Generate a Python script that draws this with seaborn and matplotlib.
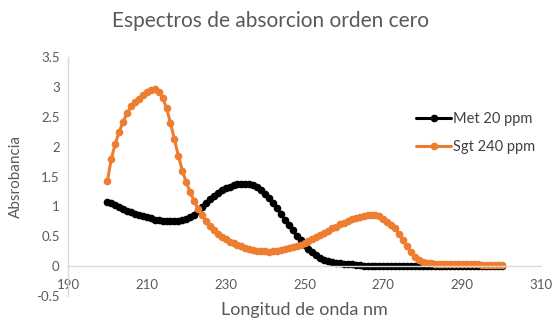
import numpy as np
import pandas as pd
import matplotlib
matplotlib.use("Agg")
import matplotlib.pyplot as plt
import seaborn as sns

# ---- data ----
wavelength = list(range(200, 301))

met_20 = [
    1.08, 1.05, 1.02, 0.99, 0.96, 0.93, 0.91, 0.88, 0.86, 0.84,   # 200-209
    0.82, 0.80, 0.78, 0.77, 0.76, 0.75, 0.75, 0.75, 0.76, 0.77,   # 210-219
    0.79, 0.82, 0.86, 0.92, 0.99, 1.06, 1.12, 1.18, 1.23, 1.27,   # 220-229
    1.30, 1.33, 1.35, 1.37, 1.38, 1.38, 1.37, 1.35, 1.32, 1.27,   # 230-239
    1.21, 1.14, 1.06, 0.97, 0.88, 0.78, 0.69, 0.60, 0.51, 0.43,   # 240-249
    0.36, 0.29, 0.23, 0.18, 0.14, 0.11, 0.09, 0.07, 0.06, 0.05,   # 250-259
    0.04, 0.03, 0.03, 0.02, 0.02, 0.01, 0.01, 0.01, 0.01, 0.01,   # 260-269
    0.00, 0.00, 0.00, 0.00, 0.00, 0.00, 0.00, 0.00, 0.00, 0.00,   # 270-279
    0.00, 0.00, 0.00, 0.00, 0.00, 0.00, 0.00, 0.00, 0.00, 0.00,   # 280-289
    0.00, 0.00, 0.00, 0.00, 0.00, 0.00, 0.00, 0.00, 0.00, 0.00,   # 290-299
    0.00,                                                         # 300
]

sgt_240 = [
    1.43, 1.80, 2.05, 2.25, 2.42, 2.56, 2.68, 2.74, 2.79, 2.87,   # 200-209
    2.91, 2.94, 2.96, 2.92, 2.82, 2.64, 2.40, 2.12, 1.85, 1.60,   # 210-219
    1.40, 1.24, 1.09, 0.96, 0.85, 0.75, 0.67, 0.60, 0.54, 0.49,   # 220-229
    0.45, 0.41, 0.38, 0.35, 0.33, 0.31, 0.29, 0.27, 0.26, 0.25,   # 230-239
    0.25, 0.24, 0.25, 0.26, 0.27, 0.28, 0.30, 0.32, 0.34, 0.36,   # 240-249
    0.39, 0.42, 0.45, 0.48, 0.52, 0.55, 0.59, 0.63, 0.66, 0.70,   # 250-259
    0.73, 0.76, 0.79, 0.81, 0.83, 0.84, 0.85, 0.86, 0.86, 0.84,   # 260-269
    0.79, 0.74, 0.69, 0.64, 0.54, 0.43, 0.33, 0.23, 0.15, 0.10,   # 270-279
    0.07, 0.055, 0.045, 0.04, 0.04, 0.035, 0.03, 0.03, 0.03, 0.03,  # 280-289
    0.03, 0.03, 0.03, 0.03, 0.03, 0.025, 0.025, 0.025, 0.02, 0.02,  # 290-299
    0.02,                                                         # 300
]

series_names = ["Met 20 ppm", "Sgt 240 ppm"]
series_colors = ["#000000", "#ED7D31"]
x_ticks = [190, 210, 230, 250, 270, 290, 310]
y_ticks = [-0.5, 0, 0.5, 1, 1.5, 2, 2.5, 3, 3.5]
y_tick_labels = ["-0.5", "0", "0.5", "1", "1.5", "2", "2.5", "3", "3.5"]

title = "Espectros de absorcion orden cero"
x_label = "Longitud de onda nm"
y_label = "Absrobancia"

df = pd.DataFrame({
    "nm": wavelength * 2,
    "abs": met_20 + sgt_240,
    "serie": [series_names[0]] * len(wavelength) + [series_names[1]] * len(wavelength),
})

# ---- plot ----
sns.set_theme(style="white")
plt.rcParams["font.family"] = ["Lato", "DejaVu Sans"]

fig = plt.figure(figsize=(5.55, 3.2), dpi=100)
ax = fig.add_axes([68 / 555, 1 - 296 / 320, (541 - 68) / 555, (296 - 57) / 320])

sns.lineplot(data=df, x="nm", y="abs", hue="serie", palette=series_colors,
             hue_order=series_names, marker="o", markersize=5.5,
             markeredgewidth=0, linewidth=2.2, ax=ax, legend=True)

ax.set_xlim(190, 310)
ax.set_ylim(-0.5, 3.5)
ax.set_xticks(x_ticks)
ax.set_xticklabels([str(t) for t in x_ticks])
ax.set_yticks(y_ticks)
ax.set_yticklabels(y_tick_labels)

grey = "#595959"
ax.tick_params(axis="both", length=0, labelsize=9.5, labelcolor=grey)
ax.tick_params(axis="x", pad=9.5)
ax.tick_params(axis="y", pad=6)

for s in ["top", "right"]:
    ax.spines[s].set_visible(False)
ax.spines["bottom"].set_position(("data", 0))
ax.spines["bottom"].set_color("#D9D9D9")
ax.spines["left"].set_color("#D9D9D9")
ax.spines["bottom"].set_linewidth(1)
ax.spines["left"].set_linewidth(1)
ax.grid(False)

ax.set_xlabel("")
ax.set_ylabel("")
fig.text((68 + 541) / 2 / 555, 1 - 310 / 320, x_label, ha="center", va="center",
         fontsize=13, color=grey)
fig.text(16 / 555, 1 - 177 / 320, y_label, ha="center", va="center",
         rotation=90, fontsize=11, color=grey)
fig.text(271 / 555, 1 - 21 / 320, title, ha="center", va="center",
         fontsize=15, color=grey)

handles, labels = ax.get_legend_handles_labels()
ax.legend(handles, labels, loc="center left",
          bbox_to_anchor=(416 / 555, 1 - 133 / 320), bbox_transform=fig.transFigure,
          frameon=False, fontsize=10.5, labelcolor="#404040", handlelength=2.4,
          handletextpad=0.15, labelspacing=1.0, borderaxespad=0, borderpad=0)

fig.savefig("out.png", dpi=100)
